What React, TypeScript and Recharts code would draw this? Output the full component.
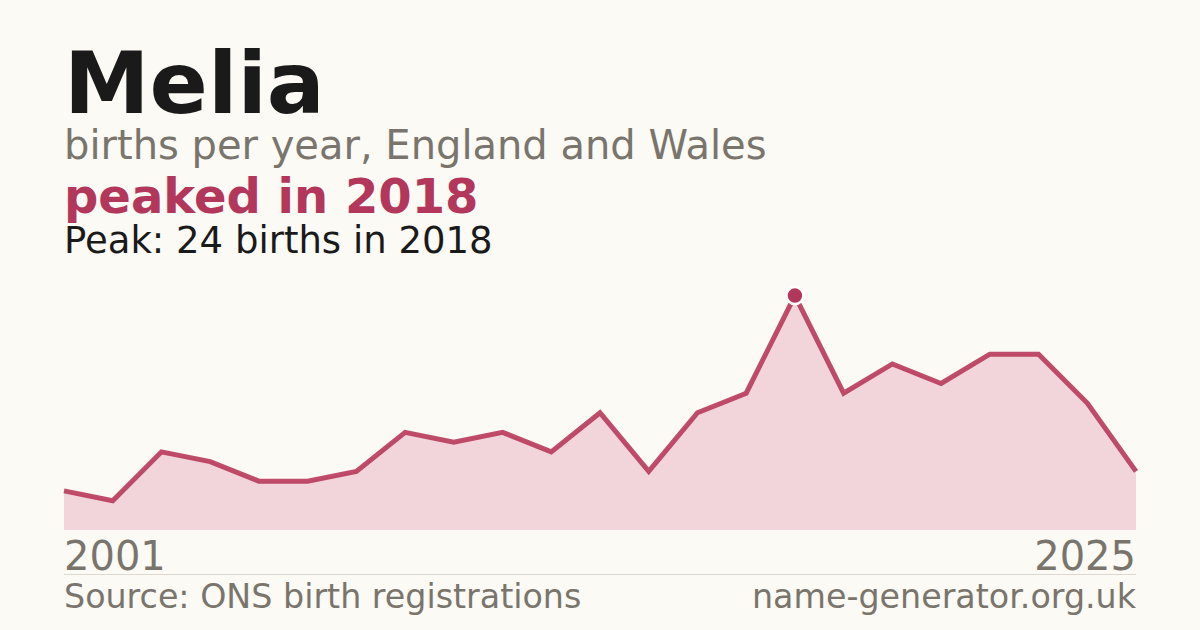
import React from "react";
import { AreaChart, Area, XAxis, YAxis } from "recharts";

const years = [2001, 2004, 2005, 2006, 2007, 2008, 2009, 2010, 2011, 2012, 2013, 2014, 2015, 2016, 2017, 2018, 2019, 2020, 2021, 2022, 2023, 2024, 2025];
const births = [4, 3, 8, 7, 5, 5, 6, 10, 9, 10, 8, 12, 6, 12, 14, 24, 14, 17, 15, 18, 18, 13, 6];
const tickYears = [2001, 2025];
const peakYear = 2018;

const data = years.map((y, i) => ({ year: y, births: births[i] }));

const FONT = "'DejaVu Sans', sans-serif";
const CRIMSON = "#b3375a";
const GRAY = "#7a756c";

const Tick = (props: any) => {
  const { x, y, payload } = props;
  const first = payload.value === tickYears[0];
  return (
    <text
      x={x}
      y={y + 32}
      textAnchor={first ? "start" : "end"}
      fontFamily={FONT}
      fontSize={40}
      fill={GRAY}
    >
      {payload.value}
    </text>
  );
};

const PeakDot = (props: any) => {
  const { cx, cy, payload, index } = props;
  if (!payload || payload.year !== peakYear) return <g key={`d${index}`} />;
  return <circle key={`d${index}`} cx={cx} cy={cy} r={8.5} fill={CRIMSON} stroke="#ffffff" strokeWidth={2.5} />;
};

export default function App() {
  return (
    <div
      style={{
        position: "absolute",
        left: 0,
        top: 0,
        width: 1200,
        height: 630,
        background: "#fbfaf5",
        fontFamily: FONT,
        overflow: "hidden",
      }}
    >
      <div style={{ position: "absolute", left: 0, top: 0 }}>
        <AreaChart width={1200} height={630} data={data} margin={{ top: 276, right: 64, bottom: 0, left: 64 }}>
          <YAxis hide domain={[0, 26]} />
          <XAxis
            dataKey="year"
            type="category"
            ticks={tickYears}
            interval={0}
            height={100}
            axisLine={false}
            tickLine={false}
            tick={<Tick />}
          />
          <Area
            type="linear"
            dataKey="births"
            stroke="#b93d5d"
            strokeOpacity={0.92}
            strokeWidth={5}
            fill="#f2d5db"
            fillOpacity={1}
            isAnimationActive={false}
            dot={<PeakDot />}
            activeDot={false}
          />
        </AreaChart>
      </div>

      <svg width={1200} height={630} style={{ position: "absolute", left: 0, top: 0, pointerEvents: "none" }}>
        <text x={64} y={113} fontFamily={FONT} fontSize={86} fontWeight={700} fill="#1a1a1a">Melia</text>
        <text x={64} y={159} fontFamily={FONT} fontSize={40} fill={GRAY}>births per year, England and Wales</text>
        <text x={64} y={213} fontFamily={FONT} fontSize={48} fontWeight={700} fill={CRIMSON}>peaked in 2018</text>
        <text x={64} y={253} fontFamily={FONT} fontSize={37} fill="#1a1a1a">Peak: 24 births in 2018</text>
        <line x1={64} x2={1136} y1={574.5} y2={574.5} stroke="#ddd8cf" strokeWidth={1} />
        <text x={64} y={608} fontFamily={FONT} fontSize={33.3} fill={GRAY}>Source: ONS birth registrations</text>
        <text x={1136} y={608} textAnchor="end" fontFamily={FONT} fontSize={33.3} fill={GRAY}>name-generator.org.uk</text>
      </svg>
    </div>
  );
}
